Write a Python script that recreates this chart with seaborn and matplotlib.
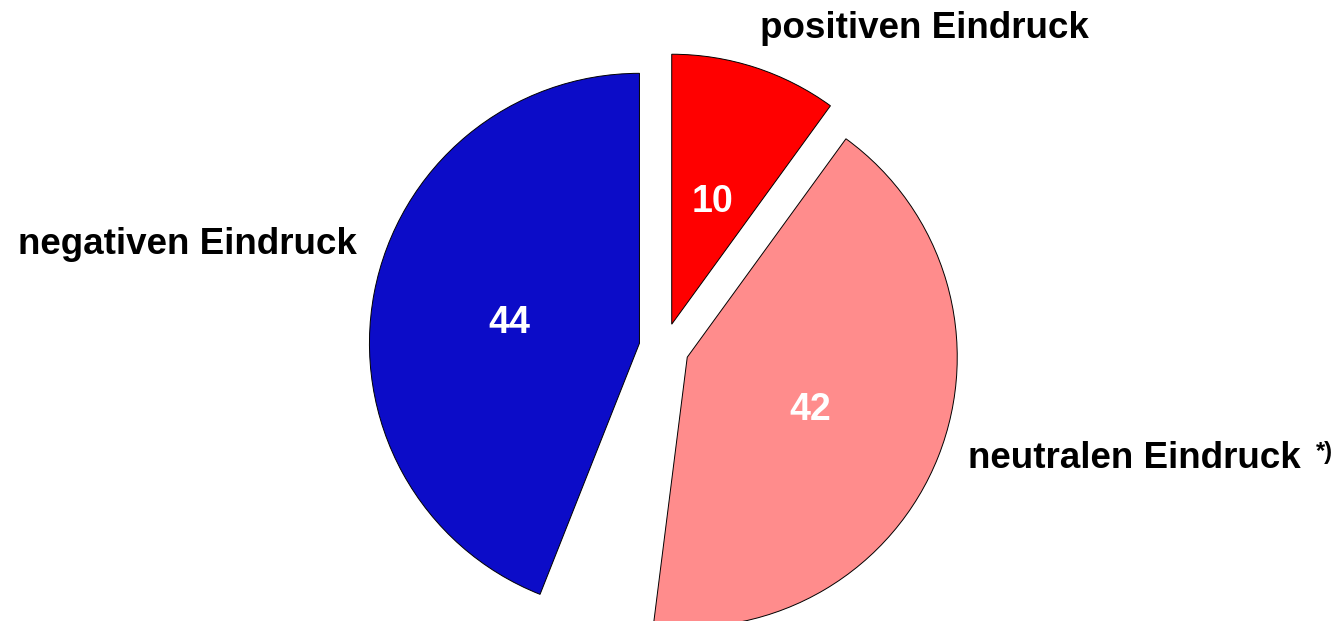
import numpy as np
import seaborn as sns
import matplotlib.pyplot as plt

# shares in percent (the 4 % "rest" slice is left empty in the original)
categories = ['positiven Eindruck', 'neutralen Eindruck', 'rest', 'negativen Eindruck']
values = [10, 42, 4, 44]
colors = ['#FF0000', '#FF8C8C', 'none', '#0C0CC8']
footnote = '*)'

sns.set_theme(style='white')
plt.rcParams['font.family'] = ['Liberation Sans', 'DejaVu Sans']

fig = plt.figure(figsize=(13.43, 6.21), dpi=100)
ax = fig.add_axes([0, 0, 1, 1])


def fmt(pct):
    v = int(round(pct))
    return '' if v == 4 else f'{v}'


wedges, texts, autotexts = ax.pie(
    values, colors=colors, startangle=90, counterclock=False,
    center=(664, 273), radius=270, explode=[25, 25, 25, 25],
    autopct=fmt, pctdistance=0.49, frame=True,
    wedgeprops=dict(edgecolor='black', linewidth=0.7),
    textprops=dict(color='white', fontsize=27, fontweight='bold'))
wedges[2].set_edgecolor('none')
for t in autotexts:
    t.set_va('center_baseline')
ax.set_xlim(0, 1343)
ax.set_ylim(0, 621)
ax.set_aspect('equal')
ax.axis('off')

# category labels
ax.text(924, 592, categories[0], ha='center', va='center',
        fontsize=26.5, fontweight='bold', color='black')
ax.text(187, 377, categories[3], ha='center', va='center',
        fontsize=26.5, fontweight='bold', color='black')
ax.text(968, 163, categories[1], ha='left', va='center',
        fontsize=26.5, fontweight='bold', color='black')
ax.text(1316, 180, footnote, ha='left', va='top',
        fontsize=17, fontweight='bold', color='black')

fig.savefig('out.png', dpi=100)
